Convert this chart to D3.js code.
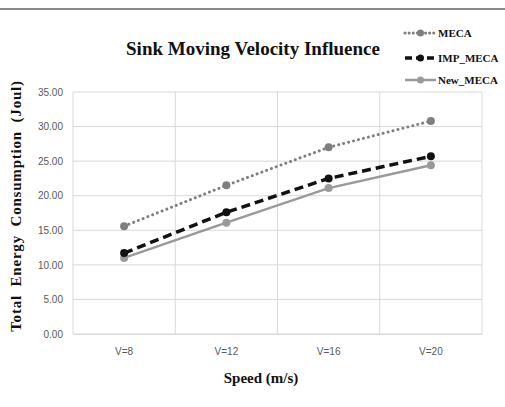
<!DOCTYPE html>
<html lang="en">
<head>
<meta charset="UTF-8">
<title>Sink Moving Velocity Influence</title>
<style>
  body { margin: 0; background: #fff; }
  .tick text { font-family: "Liberation Sans", sans-serif; font-size: 10px; fill: #595959; }
  .grid line { stroke: #d9d9d9; stroke-width: 1; }
  .title { font-family: "Liberation Serif", serif; font-weight: bold; fill: #111; }
  .legend text { font-family: "Liberation Serif", serif; font-weight: bold; font-size: 11px; fill: #111; }
</style>
</head>
<body>
<div id="chart"></div>
<script src="https://d3js.org/d3.v7.min.js"></script>
<script>
var categories = ['V=8', 'V=12', 'V=16', 'V=20'];
var meca = [15.6, 21.5, 27.0, 30.8];
var impMeca = [11.7, 17.6, 22.5, 25.7];
var newMeca = [11.0, 16.1, 21.1, 24.4];
var yTicks = [0, 5, 10, 15, 20, 25, 30, 35];

var width = 505, height = 407;
var plotLeft = 73, plotRight = 482, plotTop = 92, plotBottom = 334;

var svg = d3.select('#chart').append('svg')
  .attr('width', width).attr('height', height);

// top rule
svg.append('line')
  .attr('x1', 0).attr('x2', width).attr('y1', 9).attr('y2', 9)
  .attr('stroke', '#8a8a8a').attr('stroke-width', 2);

var x = d3.scaleBand().domain(categories).range([plotLeft, plotRight]);
var y = d3.scaleLinear().domain([0, 35]).range([plotBottom, plotTop]);

// horizontal grid
svg.append('g').attr('class', 'grid')
  .selectAll('line').data(yTicks).enter().append('line')
  .attr('x1', plotLeft).attr('x2', plotRight)
  .attr('y1', function(d) { return y(d); }).attr('y2', function(d) { return y(d); });

// vertical grid at category boundaries
var bounds = categories.map(function(c) { return x(c); }).concat([plotRight]);
svg.append('g').attr('class', 'grid')
  .selectAll('line').data(bounds).enter().append('line')
  .attr('x1', function(d) { return d; }).attr('x2', function(d) { return d; })
  .attr('y1', plotTop).attr('y2', plotBottom);

// y axis labels
var yAxis = d3.axisLeft(y).tickValues(yTicks).tickSize(0).tickPadding(10)
  .tickFormat(d3.format('.2f'));
svg.append('g').attr('transform', 'translate(' + plotLeft + ',0)').call(yAxis)
  .call(function(g) { g.select('.domain').remove(); });

// x axis labels
var xAxis = d3.axisBottom(x).tickSize(0).tickPadding(14);
svg.append('g').attr('transform', 'translate(0,' + plotBottom + ')').call(xAxis)
  .call(function(g) { g.select('.domain').attr('stroke', '#d9d9d9'); });

var series = [
  { name: 'MECA', values: meca, color: '#7f7f7f', width: 3, dash: '0.1,5', cap: 'round', dot: '#7f7f7f' },
  { name: 'IMP_MECA', values: impMeca, color: '#111', width: 3.5, dash: '9,5', cap: 'butt', dot: '#111' },
  { name: 'New_MECA', values: newMeca, color: '#9a9a9a', width: 2.5, dash: null, cap: 'butt', dot: '#9a9a9a' }
];

var line = d3.line()
  .x(function(d, i) { return x(categories[i]) + x.bandwidth() / 2; })
  .y(function(d) { return y(d); });

series.slice().reverse().forEach(function(s) {
  svg.append('path')
    .attr('d', line(s.values))
    .attr('fill', 'none')
    .attr('stroke', s.color)
    .attr('stroke-width', s.width)
    .attr('stroke-linecap', s.cap)
    .attr('stroke-dasharray', s.dash);
  svg.selectAll(null).data(s.values).enter().append('circle')
    .attr('cx', function(d, i) { return x(categories[i]) + x.bandwidth() / 2; })
    .attr('cy', function(d) { return y(d); })
    .attr('r', 4)
    .attr('fill', s.dot);
});

// titles
svg.append('text').attr('class', 'title')
  .attr('x', 253).attr('y', 55).attr('text-anchor', 'middle')
  .style('font-size', '19px').text('Sink Moving Velocity Influence');

svg.append('text').attr('class', 'title')
  .attr('x', 261).attr('y', 383).attr('text-anchor', 'middle')
  .style('font-size', '15px').text('Speed (m/s)');

svg.append('text').attr('class', 'title')
  .attr('transform', 'translate(21,206) rotate(-90)')
  .attr('text-anchor', 'middle')
  .style('font-size', '15px')
  .style('letter-spacing', '0.8px')
  .style('word-spacing', '4px')
  .text('Total Energy Consumption (Joul)');

// legend
var legend = svg.selectAll('.legend').data(series).enter().append('g')
  .attr('class', 'legend')
  .attr('transform', function(d, i) { return 'translate(405,' + [33, 58, 80][i] + ')'; });
legend.append('line')
  .attr('x1', 0).attr('x2', 31).attr('y1', 0).attr('y2', 0)
  .attr('stroke', function(d) { return d.color; })
  .attr('stroke-width', function(d) { return d.width; })
  .attr('stroke-linecap', function(d) { return d.cap; })
  .attr('stroke-dasharray', function(d) { return d.dash ? (d.name === 'IMP_MECA' ? '7,4' : '0.1,4') : null; });
legend.append('circle')
  .attr('cx', 15.5).attr('cy', 0).attr('r', 3.5)
  .attr('fill', function(d) { return d.dot; });
legend.append('text')
  .attr('x', 33).attr('y', 4)
  .text(function(d) { return d.name; });
</script>
</body>
</html>
